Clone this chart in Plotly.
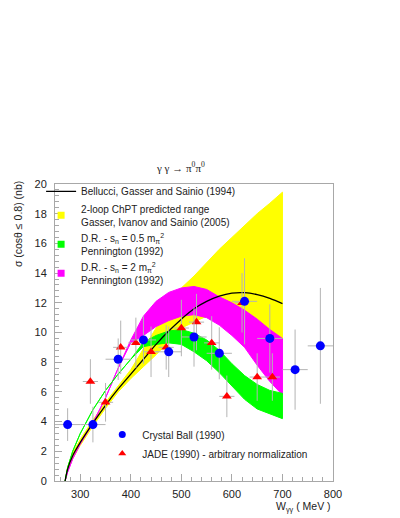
import plotly.graph_objects as go

# energy grid for the model curves (MeV)
w_grid = [270, 275, 285, 300, 325, 350, 375, 400, 425, 450, 475, 500, 525, 550, 575, 600, 625, 650, 675, 700]

# Bellucci, Gasser and Sainio (1994)
bgs_1994 = [0, 0.8, 1.7, 2.6, 3.9, 5.1, 6.2, 7.2, 8.2, 9.2, 10.1, 10.9, 11.6, 12.1, 12.45, 12.65, 12.68, 12.55, 12.3, 11.95]

# 2-loop ChPT band
chpt_hi = [0, 0.95, 1.9, 2.8, 4.1, 5.3, 6.4, 7.5, 8.9, 10.3, 11.8, 13.0, 13.8, 14.7, 15.6, 16.4, 17.2, 18.0, 18.7, 19.45]
chpt_lo = [0, 0.7, 1.5, 2.4, 3.7, 4.9, 6.0, 6.9, 7.7, 8.5, 9.4, 10.3, 10.7, 11.1, 11.3, 11.2, 11.0, 10.5, 9.9, 9.2]

# D.R. s_n = 0.5 m_pi^2
dr05_hi = [0, 0.9, 2.0, 3.2, 4.8, 6.1, 7.2, 8.2, 9.35, 9.8, 10.1, 10.2, 9.95, 9.5, 8.8, 7.9, 7.1, 6.5, 6.1, 5.9]
dr05_lo = [0, 0.9, 2.0, 3.2, 4.8, 6.1, 7.2, 8.2, 9.05, 9.2, 9.3, 9.2, 8.7, 8.1, 7.3, 6.4, 5.5, 4.85, 4.5, 4.2]

# D.R. s_n = 2 m_pi^2
dr2_hi = [0, 0.6, 1.5, 2.5, 3.9, 5.6, 7.6, 9.5, 11.1, 12.1, 12.7, 13.0, 13.1, 12.9, 12.4, 12.0, 11.5, 10.9, 10.2, 9.6]
dr2_lo = [0, 0.6, 1.5, 2.5, 3.9, 5.6, 7.6, 9.3, 9.8, 10.4, 10.8, 11.1, 11.2, 11.0, 10.5, 9.8, 9.0, 7.8, 6.7, 5.8]

# Crystal Ball (1990)
cb_w = [275, 325, 375, 425, 475, 525, 575, 625, 675, 725, 775]
cb_sigma = [3.8, 3.8, 8.2, 9.5, 8.7, 9.7, 8.6, 12.1, 9.6, 7.5, 9.1]
cb_err = [1.1, 1.2, 1.4, 1.6, 1.7, 2.0, 1.75, 2.9, 2.3, 2.7, 3.9]
cb_werr = 25

# JADE (1990)
jade_w = [320, 350, 380, 410, 440, 470, 500, 530, 560, 590, 620, 650, 680]
jade_sigma = [6.7, 5.3, 9.0, 9.3, 8.7, 9.0, 10.3, 10.7, 9.3, 5.7, 12.0, 7.0, 7.0]
jade_err = [1.5, 1.3, 1.8, 1.7, 1.7, 1.5, 1.9, 1.9, 1.8, 1.4, 2.0, 1.6, 1.6]
jade_werr = 15


def band(hi, lo, color):
    return go.Scatter(
        x=w_grid + w_grid[::-1], y=hi + lo[::-1],
        fill="toself", fillcolor=color, mode="lines",
        line=dict(color=color, width=1), showlegend=False, hoverinfo="skip",
    )


fig = go.Figure()
fig.add_trace(band(chpt_hi, chpt_lo, "#ffff00"))
fig.add_trace(band(dr2_hi, dr2_lo, "#ff00ff"))
fig.add_trace(band(dr05_hi, dr05_lo, "#00ff00"))

fig.add_trace(go.Scatter(
    x=w_grid, y=bgs_1994, mode="lines", line=dict(color="black", width=1.3, shape="spline"),
    name="Bellucci, Gasser and Sainio (1994)", legend="legend",
))

# legend keys for the bands
for name, color in [
    ("2-loop ChPT predicted range<br>Gasser, Ivanov and Sainio (2005)", "#ffff00"),
    ("D.R. - s<sub>n</sub> = 0.5 m<sub>π</sub><sup>2</sup><br>Pennington (1992)", "#00ff00"),
    ("D.R. - s<sub>n</sub> = 2 m<sub>π</sub><sup>2</sup><br>Pennington (1992)", "#ff00ff"),
]:
    fig.add_trace(go.Scatter(x=[None], y=[None], mode="markers", name=name, legend="legend",
                             marker=dict(symbol="square", size=7, color=color)))

err_col = "#b4b4b4"
fig.add_trace(go.Scatter(
    x=jade_w, y=jade_sigma, mode="markers", showlegend=False,
    marker=dict(symbol="triangle-up", size=8.5, color="#ff0000"),
    error_y=dict(type="data", array=jade_err, color=err_col, thickness=1, width=0),
    error_x=dict(type="constant", value=jade_werr, color=err_col, thickness=1, width=0),
))
fig.add_trace(go.Scatter(
    x=cb_w, y=cb_sigma, mode="markers", showlegend=False,
    marker=dict(symbol="circle", size=9, color="#0000ff"),
    error_y=dict(type="data", array=cb_err, color=err_col, thickness=1, width=0),
    error_x=dict(type="constant", value=cb_werr, color=err_col, thickness=1, width=0),
))
fig.add_trace(go.Scatter(x=[None], y=[None], mode="markers", name="Crystal Ball (1990)", legend="legend2",
                         marker=dict(symbol="circle", size=7, color="#0000ff")))
fig.add_trace(go.Scatter(x=[None], y=[None], mode="markers", name="JADE (1990) - arbitrary normalization",
                         legend="legend2", marker=dict(symbol="triangle-up", size=7, color="#ff0000")))

axis_common = dict(
    showgrid=False, zeroline=False, showline=True, mirror=True, linecolor="#a8a8a8", linewidth=1,
    ticks="inside", tickcolor="#a8a8a8", ticklen=7, tickwidth=1,
    tickfont=dict(family="Liberation Sans, Arial", size=11, color="#222"),
)

# the page body adds an 8px margin, so the figure is 392x510 and shifted
fig.update_layout(
    width=392, height=510,
    margin=dict(l=47, r=67, t=176, b=37),
    paper_bgcolor="white", plot_bgcolor="white",
    font=dict(family="Liberation Sans, Arial", size=10, color="#222"),
    xaxis=dict(range=[250, 800], tick0=300, dtick=100, ticklabelstandoff=3,
               minor=dict(ticks="inside", dtick=20, ticklen=4, tickcolor="#a8a8a8"), **axis_common),
    yaxis=dict(range=[0, 20], dtick=2, ticklabelstandoff=5,
               minor=dict(ticks="inside", dtick=0.4, ticklen=4, tickcolor="#a8a8a8"), **axis_common),
    legend=dict(x=-0.05, y=1.024, xanchor="left", yanchor="top", bgcolor="rgba(0,0,0,0)",
                font=dict(size=10, color="#222"), itemclick=False),
    legend2=dict(x=0.17, y=0.205, xanchor="left", yanchor="top", bgcolor="rgba(0,0,0,0)",
                 font=dict(size=10, color="#222"), itemclick=False, tracegroupgap=0),
    annotations=[
        dict(text="γ γ → π<sup>0</sup>π<sup>0</sup>", x=0.45, y=1.057, xref="paper", yref="paper",
             xanchor="center", yanchor="middle", showarrow=False,
             font=dict(family="Liberation Serif, Times New Roman", size=11, color="#222")),
        dict(text="σ (cosθ ≤ 0.8) (nb)", textangle=-90, x=-0.133, y=0.865, xref="paper", yref="paper",
             xanchor="center", yanchor="middle", showarrow=False, font=dict(size=10.5, color="#222")),
        dict(text="W<sub>γγ</sub> ( MeV )", x=1.0, y=-0.088, xref="paper", yref="paper",
             xanchor="right", yanchor="middle", showarrow=False, font=dict(size=10.5, color="#222")),
    ],
)

fig.write_html("out.html")
